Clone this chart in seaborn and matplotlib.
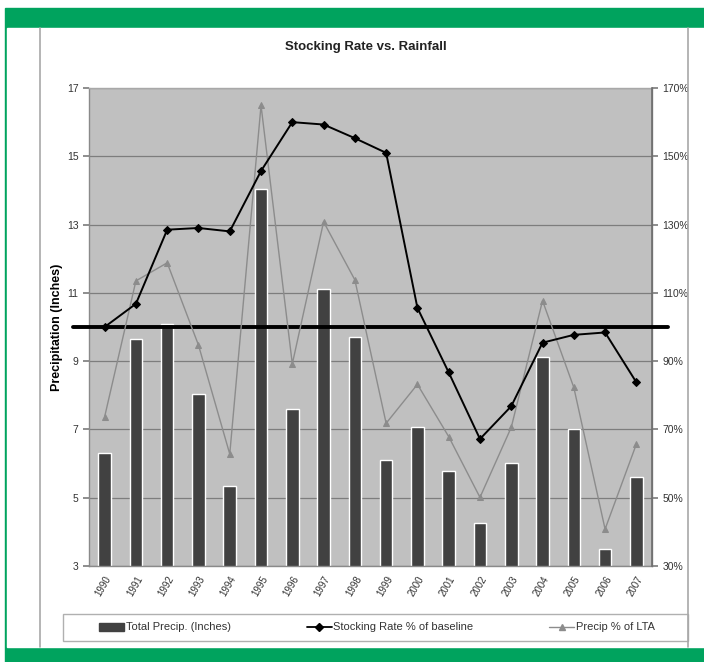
import numpy as np
import pandas as pd
import matplotlib.pyplot as plt
import matplotlib.patches as mpatches
import matplotlib.lines as mlines
from matplotlib.ticker import FuncFormatter
import seaborn as sns

# === Data ===
years = [str(y) for y in range(1990, 2008)]
total_precip = [6.3, 9.65, 10.1, 8.05, 5.35, 14.05, 7.6, 11.1, 9.7,
                6.1, 7.08, 5.78, 4.27, 6.03, 9.13, 7.0, 3.49, 5.6]
stocking_pct = [100, 106.8, 128.5, 129, 128, 145.7, 160, 159.3, 155.3,
                151, 105.6, 86.7, 67.2, 76.8, 95.4, 97.7, 98.4, 83.8]
precip_lta_pct = [73.7, 113.5, 118.8, 94.7, 62.8, 164.9, 89.2, 130.8, 113.8,
                  71.8, 83.2, 67.9, 50.1, 70.6, 107.7, 82.3, 40.8, 65.7]
baseline_pct = 100
left_ticks = [3, 5, 7, 9, 11, 13, 15, 17]
right_ticks = [30, 50, 70, 90, 110, 130, 150, 170]

df = pd.DataFrame({"year": years, "precip": total_precip,
                   "stocking": stocking_pct, "lta": precip_lta_pct})
pos = np.arange(len(years))

# === Style ===
sns.set_theme(style="white")
plt.rcParams["font.family"] = ["Liberation Sans", "DejaVu Sans"]

GREEN = "#00a35e"
W, H = 704, 662
fig = plt.figure(figsize=(7.04, 6.62), dpi=100)

# frame: green bands, white panel, chart border
fig.add_artist(mpatches.Rectangle((5 / W, 0), 1, 1 - 8 / H, transform=fig.transFigure,
                                  color=GREEN, zorder=0))
fig.add_artist(mpatches.Rectangle((7 / W, 15 / H), 1, 1 - 43 / H,
                                  transform=fig.transFigure, color="white", zorder=0))
for xp in (40, 688):
    fig.add_artist(mlines.Line2D([xp / W, xp / W], [15 / H, 1 - 28 / H],
                                 transform=fig.transFigure, color="#a8a8a8", lw=1.2))

ax = fig.add_axes([89 / W, 1 - 566 / H, 563 / W, 478 / H])
ax.set_facecolor("#c0c0c0")

# === Bars ===
sns.barplot(data=df, x="year", y="precip", color="#414141", saturation=1,
            width=0.4, ax=ax, zorder=2)
ax.set_ylim(3, 17)
ax.set_xlim(-0.5, len(years) - 0.5)
ax.set_yticks(left_ticks)
ax.yaxis.grid(True, color="#7d7d7d", lw=0.9)
ax.set_axisbelow(True)
ax.set_xlabel("")
ax.set_ylabel("Precipitation (Inches)", fontsize=9, fontweight="bold", color="black",
              labelpad=2.5)
ax.set_xticks(pos)
ax.set_xticklabels(years, rotation=60, ha="right", va="top", rotation_mode="anchor",
                   fontsize=7, color="#333333")
ax.set_xticks(np.arange(-0.5, len(years), 1), minor=True)
ax.tick_params(axis="x", which="major", length=0, pad=6)
ax.tick_params(axis="x", which="minor", length=4, color="#808080", direction="out")
ax.tick_params(axis="y", length=4, color="#808080", direction="out", labelsize=7.5,
               labelcolor="#333333", left=True)
for s in ax.spines.values():
    s.set_color("#8a8a8a")
    s.set_linewidth(1)
ax.spines["top"].set_color("#a8a8a8")

# === Percent lines on right axis ===
ax2 = ax.twinx()
ax2.set_ylim(30, 170)
ax2.set_yticks(right_ticks)
ax2.yaxis.set_major_formatter(FuncFormatter(lambda v, p: f"{v:.0f}%"))
ax2.tick_params(axis="y", length=4, color="#808080", direction="out", labelsize=7.5,
                labelcolor="#333333", right=True)
ax2.spines["right"].set_color("#6e6e6e")
ax2.spines["right"].set_linewidth(1.2)
for s in ("left", "top", "bottom"):
    ax2.spines[s].set_visible(False)

ax2.axhline(baseline_pct, xmin=-0.028, xmax=1.028, color="black", lw=2.8,
            clip_on=False, zorder=3)
sns.lineplot(x=pos, y=precip_lta_pct, ax=ax2, color="#8c8c8c", lw=1,
             marker="^", markersize=5, markeredgecolor="#8c8c8c", zorder=4)
sns.lineplot(x=pos, y=stocking_pct, ax=ax2, color="black", lw=1.4,
             marker="D", markersize=4, markeredgecolor="black", zorder=5)
ax2.set_xlim(-0.5, len(years) - 0.5)

fig.text(366 / W, 1 - 47 / H, "Stocking Rate vs. Rainfall", ha="center", va="center",
         fontsize=9.5, fontweight="bold", color="#222222")

# === Legend ===
fig.add_artist(mpatches.Rectangle((63 / W, 1 - 641 / H), 625 / W, 27 / H,
                                  transform=fig.transFigure, facecolor="white",
                                  edgecolor="#b0b0b0", lw=1, zorder=1))
handles = [
    mpatches.Patch(color="#414141", label="Total Precip. (Inches)"),
    mlines.Line2D([], [], color="black", lw=1.3, marker="D", markersize=4,
                  label="Stocking Rate % of baseline"),
    mlines.Line2D([], [], color="#8c8c8c", lw=1, marker="^", markersize=4,
                  label="Precip % of LTA"),
]
leg = fig.legend(handles=handles, ncol=3, loc="center",
                 bbox_to_anchor=(377 / W, 1 - 627.5 / H),
                 frameon=False, fontsize=8, handlelength=2.25,
                 handletextpad=0.15, columnspacing=6.8)
for t in leg.get_texts():
    t.set_color("#333333")

fig.savefig("out.png", dpi=100)
